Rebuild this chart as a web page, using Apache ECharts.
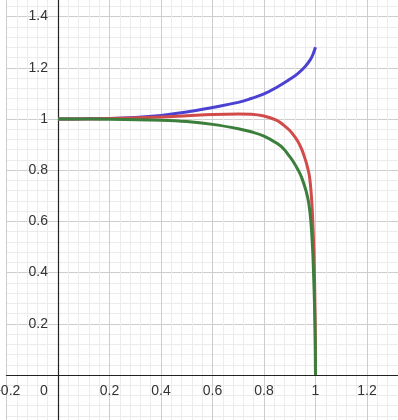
<!DOCTYPE html>
<html>
<head>
<meta charset="utf-8">
<script src="https://cdn.jsdelivr.net/npm/echarts@6/dist/echarts.min.js"></script>
<style>
html,body{margin:0;padding:0;background:#fff;}
#chart{width:398px;height:420px;}
</style>
</head>
<body>
<div id="chart"></div>
<script>
var blueX = [0, 0.1, 0.2, 0.3, 0.4, 0.5, 0.6, 0.7, 0.75, 0.8, 0.85, 0.9, 0.93, 0.96, 0.98, 0.99, 1.0];
var blueY = [1, 1.0005, 1.002, 1.006, 1.014, 1.027, 1.045, 1.065, 1.08, 1.098, 1.124, 1.155, 1.176, 1.205, 1.232, 1.252, 1.28];

var redX = [0, 0.2, 0.4, 0.5, 0.6, 0.7, 0.75, 0.8, 0.85, 0.875, 0.9, 0.914, 0.93, 0.945, 0.957, 0.966, 0.974, 0.978, 0.982, 0.986, 0.989, 0.992, 0.994, 0.997, 0.999, 1.0];
var redY = [1, 1.002, 1.008, 1.013, 1.018, 1.02, 1.019, 1.012, 0.995, 0.977, 0.955, 0.938, 0.915, 0.885, 0.852, 0.823, 0.79, 0.765, 0.725, 0.67, 0.61, 0.535, 0.476, 0.33, 0.17, 0];

var greenX = [0, 0.2, 0.4, 0.5, 0.6, 0.7, 0.75, 0.8, 0.85, 0.875, 0.9, 0.914, 0.933, 0.946, 0.963, 0.974, 0.982, 0.989, 0.992, 0.996, 0.999, 1.0];
var greenY = [1, 0.999, 0.995, 0.99, 0.979, 0.962, 0.95, 0.933, 0.905, 0.885, 0.853, 0.833, 0.8, 0.772, 0.72, 0.67, 0.6, 0.488, 0.41, 0.28, 0.13, 0];

var xTicks = [-0.2, 0, 0.2, 0.4, 0.6, 0.8, 1, 1.2, 1.4];
var yTicks = [-0.2, 0, 0.2, 0.4, 0.6, 0.8, 1, 1.2, 1.4, 1.6];

function pairs(xs, ys) {
  return xs.map(function (x, i) { return [x, ys[i]]; });
}
function fmt(v) {
  var s = (Math.round(v * 10) / 10).toString();
  return s.replace('-', '\u2212');
}

var FONT = 'Liberation Sans, Arial, sans-serif';
var labelFont = {fontFamily: FONT, fontSize: 14, color: '#333'};
var xMin = xTicks[0], xMax = xTicks[xTicks.length - 1];
var yMin = yTicks[0], yMax = yTicks[yTicks.length - 1];

var chart = echarts.init(document.getElementById('chart'), null, {renderer: 'canvas'});
function makeOption(xOff, yOff) {
  return {
    animation: false,
    backgroundColor: '#ffffff',
    grid: {left: 6.5, right: -20.5, top: -34.6, bottom: -6.2, containLabel: false, outerBoundsMode: 'none'},
    xAxis: {
      type: 'value', min: xMin, max: xMax, interval: xTicks[1] - xTicks[0],
      offset: xOff,
      axisLine: {onZero: false, lineStyle: {color: '#222', width: 1.2}},
      axisTick: {show: false},
      axisLabel: Object.assign({
        margin: 9,
        formatter: function (v) {
          if (Math.abs(v) < 1e-9) return '{o|0}';
          return fmt(v);
        },
        rich: {o: {fontFamily: FONT, fontSize: 14, color: '#333', padding: [0, 28, 0, 0]}}
      }, labelFont),
      splitLine: {show: true, lineStyle: {color: '#cdcdcd', width: 1}},
      minorTick: {show: false, splitNumber: 5},
      minorSplitLine: {show: true, lineStyle: {color: '#ececec', width: 1}}
    },
    yAxis: {
      type: 'value', min: yMin, max: yMax, interval: yTicks[1] - yTicks[0],
      offset: yOff,
      axisLine: {onZero: false, lineStyle: {color: '#222', width: 1.2}},
      axisTick: {show: false},
      axisLabel: Object.assign({
        margin: 10,
        formatter: function (v) {
          if (Math.abs(v) < 1e-9) return '';
          return fmt(v);
        }
      }, labelFont),
      splitLine: {show: true, lineStyle: {color: '#cdcdcd', width: 1}},
      minorTick: {show: false, splitNumber: 5},
      minorSplitLine: {show: true, lineStyle: {color: '#ececec', width: 1}}
    },
    series: [
      {type: 'line', data: pairs(blueX, blueY), showSymbol: false, smooth: 0.4,
       lineStyle: {color: '#4b41d2', width: 3}, z: 3},
      {type: 'line', data: pairs(redX, redY), showSymbol: false, smooth: 0.4,
       lineStyle: {color: '#d24b4b', width: 3}, z: 4},
      {type: 'line', data: pairs(greenX, greenY), showSymbol: false, smooth: 0.4,
       lineStyle: {color: '#3c7f3c', width: 3}, z: 5}
    ]
  };
}
chart.setOption(makeOption(0, 0));
var p0 = chart.convertToPixel({gridIndex: 0}, [0, 0]);
var pm = chart.convertToPixel({gridIndex: 0}, [xMin, yMin]);
var xOff = p0[1] - pm[1];   // move x axis up to y = 0
var yOff = pm[0] - p0[0];   // move y axis right to x = 0
chart.setOption(makeOption(xOff, yOff));
</script>
</body>
</html>
